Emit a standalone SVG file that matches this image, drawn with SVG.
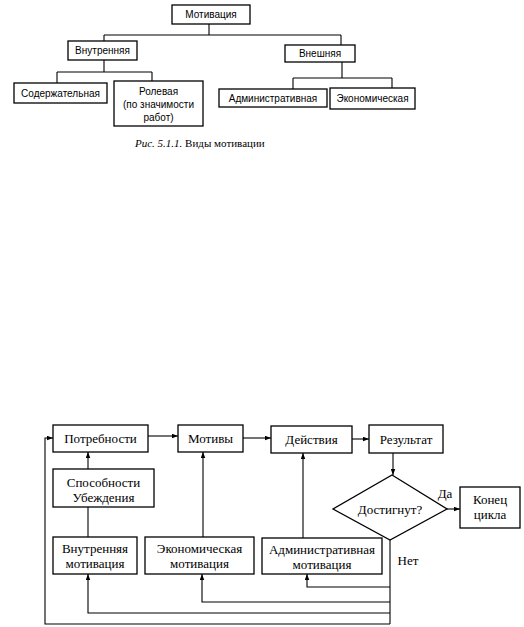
<svg xmlns="http://www.w3.org/2000/svg" width="524" height="627" viewBox="0 0 524 627">
<defs>
<style>
.b{fill:#fff;stroke:#000;stroke-width:1.3}
.l{fill:none;stroke:#000;stroke-width:1.1}
.ts{font-family:"Liberation Sans",Arial,sans-serif;font-size:10px;fill:#000;text-anchor:middle;dominant-baseline:central}
.tb{font-family:"Liberation Serif","Times New Roman",serif;font-size:13px;fill:#000;text-anchor:middle;dominant-baseline:central}
.cap{font-family:"Liberation Serif","Times New Roman",serif;font-size:11px;fill:#000}
</style>
<marker id="ar" viewBox="0 0 8 6" refX="8" refY="3" markerWidth="6" markerHeight="5" orient="auto" markerUnits="userSpaceOnUse">
<path d="M0,0 L8,3 L0,6 z" fill="#000"/>
</marker>
</defs>
<rect width="524" height="627" fill="#fff"/>

<g id="connectors-top">
<path class="l" d="M209,24 V35 M104,35 H341 M104,35 V41 M341,35 V45"/>
<path class="l" d="M104,60 V72 M57,72 H152 M57,72 V83 M152,72 V81"/>
<path class="l" d="M342,62 V78 M293,78 H392 M293,78 V89 M392,78 V88"/>
</g>
<g id="n-motivation"><rect class="b" x="172" y="5" width="78" height="19"/><text class="ts" x="211" y="14.5">Мотивация</text></g>
<g id="n-inner"><rect class="b" x="68" y="41" width="69" height="19"/><text class="ts" x="102.5" y="50.5">Внутренняя</text></g>
<g id="n-outer"><rect class="b" x="285" y="45" width="70" height="17"/><text class="ts" x="320" y="53.5">Внешняя</text></g>
<g id="n-content"><rect class="b" x="14" y="83" width="93" height="20"/><text class="ts" x="60.5" y="93">Содержательная</text></g>
<g id="n-role"><rect class="b" x="114" y="81" width="89" height="45"/><text class="ts" x="158.5" y="91">Ролевая</text><text class="ts" x="158.5" y="104">(по значимости</text><text class="ts" x="158.5" y="117">работ)</text></g>
<g id="n-admin"><rect class="b" x="219" y="89" width="108" height="18"/><text class="ts" x="273" y="98">Административная</text></g>
<g id="n-econ"><rect class="b" x="330" y="88" width="85" height="21"/><text class="ts" x="372.5" y="98.5">Экономическая</text></g>
<text class="cap" x="135" y="147"><tspan font-style="italic">Рис. 5.1.1.</tspan> Виды мотивации</text>

<g id="connectors-bottom">
<path class="l" d="M148,436 H178" marker-end="url(#ar)"/>
<path class="l" d="M243,438 H271" marker-end="url(#ar)"/>
<path class="l" d="M352,439 H369" marker-end="url(#ar)"/>
<path class="l" d="M88,469 V452" marker-end="url(#ar)"/>
<path class="l" d="M88,537 V507"/>
<path class="l" d="M203,537 V452" marker-end="url(#ar)"/>
<path class="l" d="M303,538 V453" marker-end="url(#ar)"/>
<path class="l" d="M393,453 V475" marker-end="url(#ar)"/>
<path class="l" d="M447,509 H460" marker-end="url(#ar)"/>
<path class="l" d="M390,540 V624"/>
<path class="l" d="M390,587 H307 V574" marker-end="url(#ar)"/>
<path class="l" d="M390,602 H202 V574" marker-end="url(#ar)"/>
<path class="l" d="M390,613 H88 V574" marker-end="url(#ar)"/>
<path class="l" d="M390,624 H45 V438 H53" marker-end="url(#ar)"/>
</g>
<g id="n-needs"><rect class="b" x="53" y="425" width="95" height="27"/><text class="tb" x="100.5" y="438.5">Потребности</text></g>
<g id="n-motives"><rect class="b" x="178" y="425" width="65" height="27"/><text class="tb" x="210.5" y="438.5">Мотивы</text></g>
<g id="n-actions"><rect class="b" x="271" y="426" width="81" height="27"/><text class="tb" x="311.5" y="439.5">Действия</text></g>
<g id="n-result"><rect class="b" x="369" y="425" width="74" height="28"/><text class="tb" x="406" y="439">Результат</text></g>
<g id="n-abilities"><rect class="b" x="53" y="469" width="101" height="38"/><text class="tb" x="103.5" y="482">Способности</text><text class="tb" x="103.5" y="497">Убеждения</text></g>
<g id="n-inner-m"><rect class="b" x="53" y="537" width="84" height="37"/><text class="tb" x="95" y="548">Внутренняя</text><text class="tb" x="95" y="563">мотивация</text></g>
<g id="n-econ-m"><rect class="b" x="145" y="537" width="109" height="37"/><text class="tb" x="199.5" y="548">Экономическая</text><text class="tb" x="199.5" y="563">мотивация</text></g>
<g id="n-admin-m"><rect class="b" x="262" y="538" width="120" height="36"/><text class="tb" x="322" y="549">Административная</text><text class="tb" x="322" y="564">мотивация</text></g>
<g id="n-decision"><polygon class="b" points="392,475 447,509 390,540 333,509"/><text class="tb" x="390" y="509">Достигнут?</text></g>
<g id="n-end"><rect class="b" x="460" y="487" width="60" height="41"/><text class="tb" x="490" y="499">Конец</text><text class="tb" x="490" y="514">цикла</text></g>
<text class="tb" x="445" y="493">Да</text>
<text class="tb" x="408" y="560">Нет</text>
</svg>
